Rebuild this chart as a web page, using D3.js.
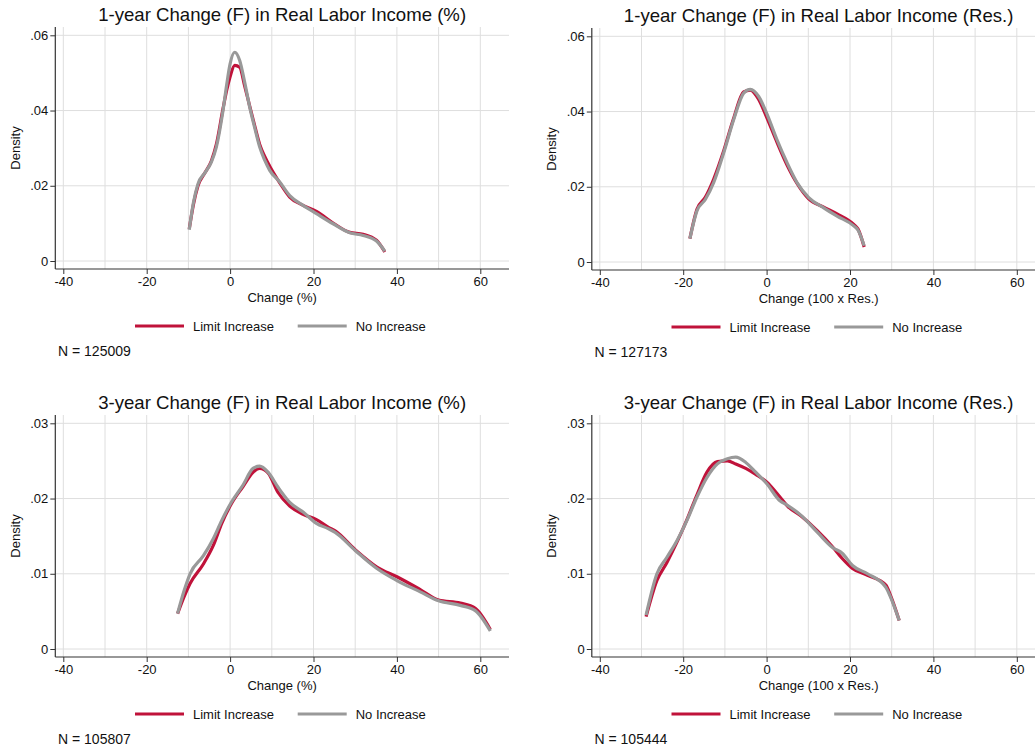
<!DOCTYPE html>
<html lang="en">
<head>
  <meta charset="UTF-8" />
  <title>Change in Real Labor Income - density plots</title>
  <style>
    body {
      margin: 0;
      background: #fff;
    }
    svg {
      display: block;
      font-family: "Liberation Sans", Arial, sans-serif;
    }
    .grid line {
      stroke: #dedede;
      stroke-width: 1;
    }
    .axis text {
      font-size: 13px;
      fill: #111;
    }
    .axis line {
      stroke: #333;
    }
  </style>
</head>
<body>
  <svg id="chart" width="1035" height="750" viewBox="0 0 1035 750" xmlns="http://www.w3.org/2000/svg"></svg>

  <script src="https://d3js.org/d3.v7.min.js"></script>
  <script>
    const width = 1035;
    const height = 750;
    const svg = d3.select("#chart");

    // titles, axis labels and sample sizes, one per panel
    const titles = [
      "1-year Change (F) in Real Labor Income (%)",
      "1-year Change (F) in Real Labor Income (Res.)",
      "3-year Change (F) in Real Labor Income (%)",
      "3-year Change (F) in Real Labor Income (Res.)"
    ];
    const xTitles = ["Change (%)", "Change (100 x Res.)", "Change (%)", "Change (100 x Res.)"];
    const notes = ["N = 125009", "N = 127173", "N = 105807", "N = 105444"];
    const seriesNames = ["Limit Increase", "No Increase"];
    const xTicks = [-40, -20, 0, 20, 40, 60];
    const yTicks1 = [0, 0.02, 0.04, 0.06];
    const yTicks3 = [0, 0.01, 0.02, 0.03];

    // panel 1: 1-year, %
    const p1X = [-9.8, -8.8, -7.7, -6, -4.5, -3.3, -1.7, -0.8, 0, 1.1, 2.3, 3.5, 4.7, 6, 7.1, 8.3, 9.5, 11.9, 14.3, 17.5, 20.7, 24.7, 28.7, 31.9, 35.1, 37.1];
    const p1Limit = [0.0085, 0.0150, 0.0200, 0.0235, 0.0266, 0.0310, 0.0405, 0.0455, 0.0490, 0.0520, 0.0515, 0.0465, 0.0412, 0.0355, 0.0310, 0.0278, 0.0252, 0.0208, 0.0170, 0.0148, 0.0132, 0.0101, 0.0076, 0.0071, 0.0055, 0.0024];
    const p1None = [0.0083, 0.0155, 0.0205, 0.0235, 0.0263, 0.0303, 0.0400, 0.0470, 0.0524, 0.0555, 0.0533, 0.0475, 0.0409, 0.0350, 0.0303, 0.0268, 0.0241, 0.0210, 0.0174, 0.0148, 0.0126, 0.0099, 0.0075, 0.0068, 0.0053, 0.0026];

    // panel 2: 1-year, residual
    const p2X = [-18.4, -16.7, -14.7, -12.7, -10.3, -7.9, -5.5, -3.9, -1.9, 0, 2.5, 4.9, 7.3, 10.1, 13.7, 16.9, 20.9, 21.9, 23.4];
    const p2Limit = [0.0062, 0.0140, 0.0172, 0.0220, 0.0295, 0.0382, 0.0452, 0.0457, 0.0432, 0.0385, 0.0318, 0.0258, 0.0209, 0.0168, 0.0146, 0.0128, 0.0100, 0.0088, 0.0040];
    const p2None = [0.0062, 0.0136, 0.0166, 0.0211, 0.0290, 0.0378, 0.0449, 0.0459, 0.0440, 0.0396, 0.0325, 0.0264, 0.0211, 0.0171, 0.0144, 0.0122, 0.0096, 0.0085, 0.0043];

    // panel 3: 3-year, %
    const p3X = [-12.6, -11, -9.6, -6.4, -4.0, -2.0, 0.3, 3.1, 5.5, 7.1, 9.1, 11.5, 14.3, 17.5, 20.7, 23.5, 25.2, 30.0, 35.2, 40.0, 45.6, 50.0, 55.2, 58.8, 62.4];
    const p3Limit = [0.0047, 0.0070, 0.0087, 0.0113, 0.0138, 0.0167, 0.0193, 0.0216, 0.0235, 0.0240, 0.0234, 0.0208, 0.0190, 0.0179, 0.0172, 0.0162, 0.0157, 0.0132, 0.0109, 0.0096, 0.0079, 0.0065, 0.0061, 0.0054, 0.0026];
    const p3None = [0.0047, 0.0078, 0.0100, 0.0124, 0.0147, 0.0171, 0.0195, 0.0218, 0.0240, 0.0243, 0.0235, 0.0215, 0.0195, 0.0182, 0.0167, 0.0160, 0.0155, 0.0131, 0.0107, 0.0091, 0.0076, 0.0064, 0.0058, 0.0051, 0.0024];

    // panel 4: 3-year, residual
    const p4X = [-28.9, -26.3, -23.9, -21.5, -19.1, -16.7, -14.3, -11.8, -9.4, -7.4, -5.0, -2.6, 0.0, 3.2, 5.0, 8.2, 12.2, 15.8, 18.2, 20.6, 24.2, 28.6, 29.8, 31.8];
    const p4Limit = [0.0043, 0.0091, 0.0115, 0.0142, 0.0172, 0.0205, 0.0235, 0.0249, 0.0250, 0.0246, 0.0240, 0.0232, 0.0222, 0.0202, 0.0190, 0.0177, 0.0157, 0.0136, 0.0120, 0.0107, 0.0098, 0.0085, 0.0070, 0.0038];
    const p4None = [0.0045, 0.0100, 0.0122, 0.0144, 0.0171, 0.0202, 0.0228, 0.0246, 0.0253, 0.0255, 0.0248, 0.0235, 0.0220, 0.0197, 0.0191, 0.0178, 0.0155, 0.0135, 0.0127, 0.0111, 0.0100, 0.0082, 0.0068, 0.0038];

    const colors = ["#c0123a", "#999999"];

    const panels = [
      { x: p1X, series: [p1Limit, p1None], yTicks: yTicks1, ox: 0, oy: 0 },
      { x: p2X, series: [p2Limit, p2None], yTicks: yTicks1, ox: 536.5, oy: 1 },
      { x: p3X, series: [p3Limit, p3None], yTicks: yTicks3, ox: 0, oy: 388 },
      { x: p4X, series: [p4Limit, p4None], yTicks: yTicks3, ox: 536.5, oy: 388 }
    ];

    // plot region inside each panel
    const plotL = 55.3, plotR = 509, plotT = 27, plotB = 269;

    const fmtY = d => d === 0 ? "0" : d3.format(".2f")(d).replace(/^0/, "");
    const fmtX = d => String(d);

    panels.forEach((p, i) => {
      const g = svg.append("g").attr("transform", `translate(${p.ox},${p.oy})`);

      const x = d3.scaleLinear().domain([-40, 60]).range([63.3, 480.3]);
      const y = d3.scaleLinear().domain([0, d3.max(p.yTicks)]).range([261, 35.3]);

      // grid
      const grid = g.append("g").attr("class", "grid");
      grid.selectAll(".v")
        .data(d3.range(-40, 61, 10))
        .enter().append("line")
        .attr("x1", d => x(d)).attr("x2", d => x(d))
        .attr("y1", plotT).attr("y2", plotB);
      grid.selectAll(".h")
        .data(p.yTicks)
        .enter().append("line")
        .attr("x1", plotL).attr("x2", plotR)
        .attr("y1", d => y(d)).attr("y2", d => y(d));

      // axes
      const yAxis = g.append("g").attr("class", "axis")
        .attr("transform", `translate(${plotL},0)`)
        .call(d3.axisLeft(y).tickValues(p.yTicks).tickSize(5).tickPadding(2).tickFormat(fmtY));
      yAxis.select(".domain").remove();

      const xAxis = g.append("g").attr("class", "axis")
        .attr("transform", `translate(0,${plotB})`)
        .call(d3.axisBottom(x).tickValues(xTicks).tickSize(5).tickPadding(3).tickFormat(fmtX));
      xAxis.select(".domain").remove();

      g.append("line")
        .attr("x1", plotL).attr("x2", plotL).attr("y1", plotT).attr("y2", plotB)
        .attr("stroke", "#333").attr("stroke-width", 1.2);
      g.append("line")
        .attr("x1", plotL).attr("x2", plotR).attr("y1", plotB).attr("y2", plotB)
        .attr("stroke", "#333").attr("stroke-width", 1.2);

      // density curves
      const line = d3.line()
        .x(d => x(d[0]))
        .y(d => y(d[1]))
        .curve(d3.curveMonotoneX);

      p.series.forEach((vals, k) => {
        g.append("path")
          .datum(p.x.map((v, j) => [v, vals[j]]))
          .attr("d", line)
          .attr("fill", "none")
          .attr("stroke", colors[k])
          .attr("stroke-width", 3.2)
          .attr("stroke-linejoin", "round")
          .attr("stroke-linecap", "butt");
      });

      // titles
      g.append("text")
        .attr("x", (plotL + plotR) / 2).attr("y", 21)
        .attr("text-anchor", "middle")
        .attr("font-size", "18.6px")
        .attr("fill", "#111")
        .text(titles[i]);

      g.append("text")
        .attr("x", (plotL + plotR) / 2).attr("y", 302)
        .attr("text-anchor", "middle")
        .attr("font-size", "13px")
        .attr("fill", "#111")
        .text(xTitles[i]);

      g.append("text")
        .attr("transform", `translate(19.5,${(plotT + plotB) / 2}) rotate(-90)`)
        .attr("text-anchor", "middle")
        .attr("font-size", "13px")
        .attr("fill", "#111")
        .text("Density");

      // legend
      const legendX = [135, 297.7];
      seriesNames.forEach((name, k) => {
        g.append("line")
          .attr("x1", legendX[k]).attr("x2", legendX[k] + 49)
          .attr("y1", 326).attr("y2", 326)
          .attr("stroke", colors[k]).attr("stroke-width", 3.2);
        g.append("text")
          .attr("x", legendX[k] + 58).attr("y", 330.5)
          .attr("font-size", "13px")
          .attr("fill", "#111")
          .text(name);
      });

      g.append("text")
        .attr("x", 58).attr("y", 356)
        .attr("font-size", "14px")
        .attr("fill", "#111")
        .text(notes[i]);
    });
  </script>
</body>
</html>
